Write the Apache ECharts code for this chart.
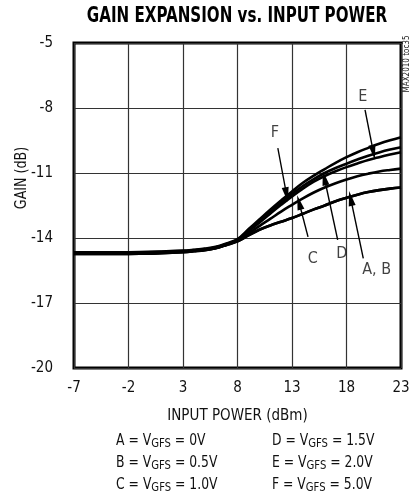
<!DOCTYPE html>
<html>
<head>
<meta charset="utf-8">
<script src="https://cdn.jsdelivr.net/npm/echarts@6/dist/echarts.min.js"></script>
<style>
  html, body { margin: 0; padding: 0; background: #fff; }
  #chart { width: 413px; height: 496px; }
</style>
</head>
<body>
<div id="chart"></div>
<script>
// input power (dBm) sample points
const inputPower = [-7, -5, -3, -1, 1, 3, 4, 5, 6, 7, 8, 9, 10, 11, 12, 13, 14, 15, 16, 17, 18, 19, 20, 21, 22, 23]

// gain (dB) per curve
const gainA = [-14.74, -14.74, -14.74, -14.73, -14.7, -14.65, -14.61, -14.56, -14.47, -14.32, -14.15, -13.88, -13.62, -13.42, -13.25, -13.08, -12.88, -12.68, -12.5, -12.3, -12.14, -12.0, -11.88, -11.79, -11.72, -11.67]
const gainB = [-14.74, -14.74, -14.74, -14.73, -14.7, -14.65, -14.61, -14.56, -14.47, -14.32, -14.15, -13.88, -13.62, -13.42, -13.25, -13.08, -12.88, -12.68, -12.5, -12.3, -12.14, -12.0, -11.88, -11.79, -11.72, -11.67]
const gainC = [-14.72, -14.72, -14.72, -14.71, -14.68, -14.63, -14.59, -14.54, -14.46, -14.3, -14.12, -13.8, -13.45, -13.12, -12.78, -12.47, -12.17, -11.9, -11.67, -11.47, -11.3, -11.15, -11.03, -10.93, -10.86, -10.8]
const gainD = [-14.7, -14.7, -14.7, -14.69, -14.66, -14.62, -14.58, -14.53, -14.45, -14.29, -14.1, -13.7, -13.3, -12.88, -12.47, -12.08, -11.72, -11.4, -11.14, -10.92, -10.73, -10.56, -10.4, -10.27, -10.15, -10.04]
const gainE = [-14.68, -14.68, -14.68, -14.67, -14.64, -14.6, -14.56, -14.51, -14.43, -14.27, -14.08, -13.65, -13.22, -12.8, -12.37, -11.97, -11.6, -11.28, -11.0, -10.77, -10.57, -10.38, -10.2, -10.05, -9.92, -9.81]
const gainF = [-14.66, -14.66, -14.66, -14.65, -14.62, -14.58, -14.54, -14.49, -14.41, -14.25, -14.05, -13.6, -13.15, -12.7, -12.27, -11.85, -11.45, -11.12, -10.82, -10.53, -10.27, -10.04, -9.84, -9.65, -9.49, -9.35]

const curves = [gainA, gainB, gainC, gainD, gainE, gainF]

// curve labels: text position, arrow tail, arrow tip (data units)
const labelText = ['F', 'E', 'D', 'C', 'A, B']
const labelPos = [[11.44, -9.15], [19.5, -7.5], [17.56, -14.71], [14.9, -14.94], [20.77, -15.48]]
const arrowTail = [[11.7, -9.85], [19.7, -8.09], [17.19, -14.09], [14.47, -13.95], [19.54, -14.94]]
const arrowTip = [[12.5, -12.0], [20.47, -10.05], [15.97, -11.23], [13.65, -12.36], [18.38, -12.17]]

const legendLines = [
  ['A = V{g|GFS} = 0V', 'D = V{g|GFS} = 1.5V'],
  ['B = V{g|GFS} = 0.5V', 'E = V{g|GFS} = 2.0V'],
  ['C = V{g|GFS} = 1.0V', 'F = V{g|GFS} = 5.0V']
]

const font = "'DejaVu Sans Condensed', 'DejaVu Sans', sans-serif"

const chart = echarts.init(document.getElementById('chart'))

const lineSeries = curves.map(c => ({
  type: 'line',
  data: inputPower.map((x, i) => [x, c[i]]),
  smooth: 0.4,
  symbol: 'none',
  lineStyle: { color: '#000', width: 2.6 },
  z: 3
}))

const graphics = []
legendLines.forEach((row, r) => {
  row.forEach((txt, k) => {
    graphics.push({
      type: 'text',
      x: k === 0 ? 116 : 272,
      y: 441 + r * 22,
      scaleX: 0.86,
      style: {
        text: txt,
        fontFamily: font,
        fontSize: 16,
        fill: '#111',
        verticalAlign: 'middle',
        rich: {
          g: { fontFamily: font, fontSize: 13, fill: '#111', padding: [6, 0, 0, 0] }
        }
      }
    })
  })
})
graphics.push({
  type: 'text',
  x: 237, y: 17,
  scaleX: 0.8,
  style: {
    text: 'GAIN EXPANSION vs. INPUT POWER', fontFamily: font, fontWeight: 'bold',
    fontSize: 21, fill: '#000', align: 'center', verticalAlign: 'middle'
  }
})
graphics.push({
  type: 'text',
  x: 22, y: 178,
  rotation: Math.PI / 2,
  scaleX: 0.88,
  style: { text: 'GAIN (dB)', fontFamily: font, fontSize: 16, fill: '#111', align: 'center', verticalAlign: 'middle' }
})
graphics.push({
  type: 'text',
  x: 407, y: 64,
  rotation: Math.PI / 2,
  style: { text: 'MAX2010 toc35', fontFamily: font, fontSize: 8, fill: '#222', align: 'center', verticalAlign: 'middle' }
})

chart.setOption({
  animation: false,
  backgroundColor: '#fff',
  grid: {
    left: 74, right: 12, top: 43, bottom: 128,
    show: true, borderColor: '#000', borderWidth: 3
  },
  xAxis: {
    type: 'value', min: -7, max: 23, interval: 5,
    name: 'INPUT POWER (dBm)', nameLocation: 'middle', nameGap: 41,
    nameTextStyle: { fontFamily: font, fontSize: 15, color: '#111' },
    axisLine: { show: false }, axisTick: { show: false },
    axisLabel: { fontFamily: font, fontSize: 15, color: '#111', margin: 13 },
    splitLine: { lineStyle: { color: '#333', width: 1.2 } }
  },
  yAxis: {
    type: 'value', min: -20, max: -5, interval: 3,
    axisLine: { show: false }, axisTick: { show: false },
    axisLabel: { fontFamily: font, fontSize: 15, color: '#111', margin: 21 },
    splitLine: { lineStyle: { color: '#333', width: 1.2 } }
  },
  graphic: graphics,
  series: lineSeries.concat([
    {
      type: 'line',
      data: [],
      symbol: 'none',
      markLine: {
        silent: true,
        symbol: ['none', 'triangle'],
        symbolSize: [7, 15],
        label: { show: false },
        lineStyle: { color: '#000', width: 1.4, type: 'solid' },
        data: arrowTail.map((t, i) => [{ coord: t }, { coord: arrowTip[i] }])
      },
      z: 4
    },
    {
      type: 'scatter',
      symbolSize: 0,
      data: labelText.map((t, i) => ({ name: t, value: labelPos[i] })),
      label: {
        show: true, position: 'inside', formatter: '{b}',
        fontFamily: font, fontSize: 16, color: '#111'
      },
      z: 5
    }
  ])
})
</script>
</body>
</html>
